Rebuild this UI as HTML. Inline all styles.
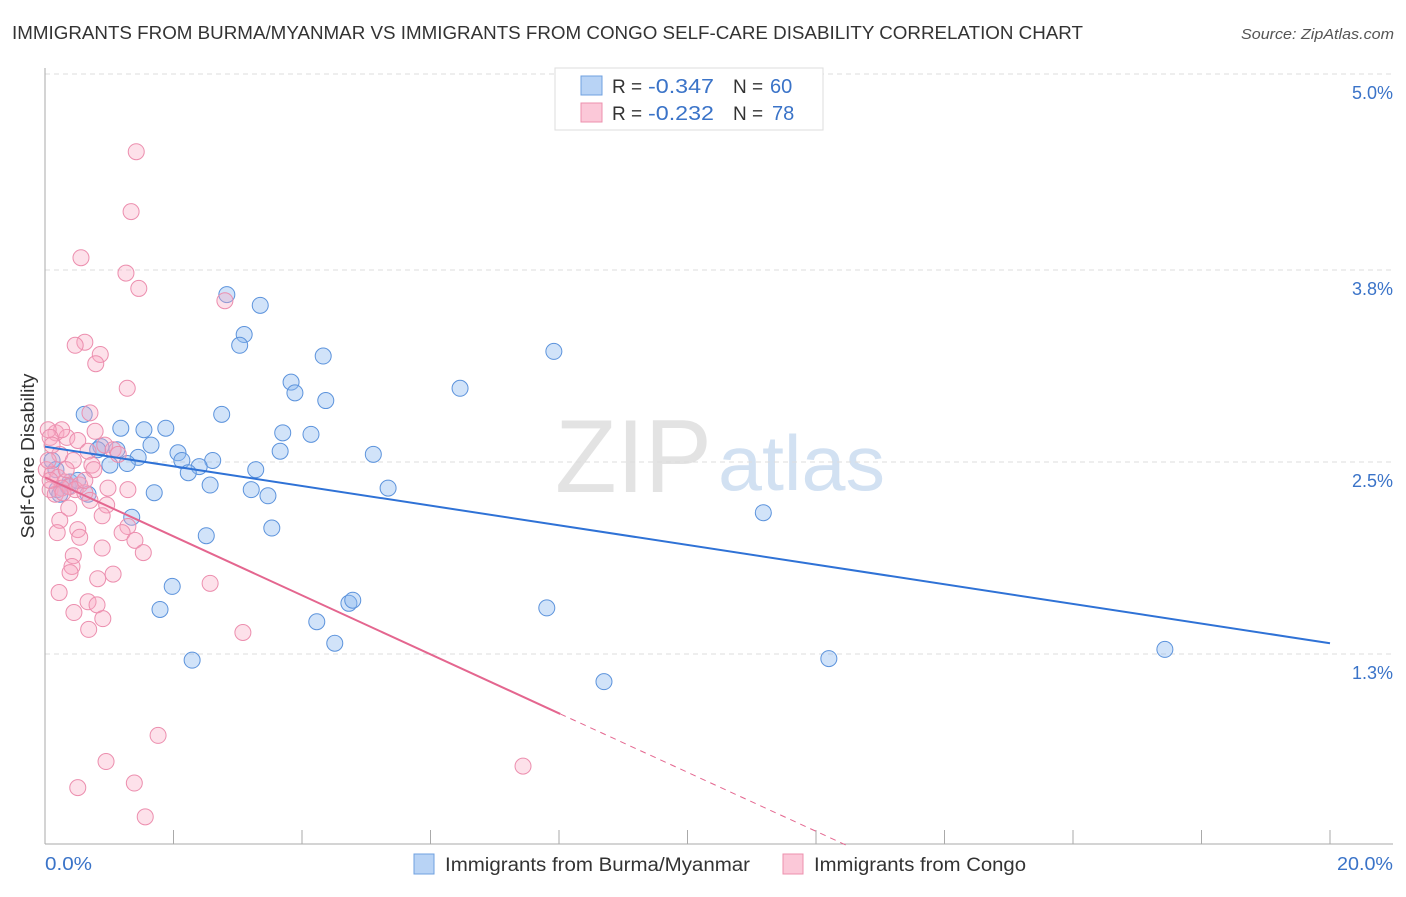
<!DOCTYPE html>
<html><head><meta charset="utf-8"><style>
body{margin:0;background:#fff;font-family:"Liberation Sans",sans-serif}
svg text{font-family:"Liberation Sans",sans-serif}
</style></head><body>
<svg id="chart" width="1406" height="892" xmlns="http://www.w3.org/2000/svg">
<text x="12" y="39" font-size="18" fill="#333" textLength="1071" lengthAdjust="spacingAndGlyphs">IMMIGRANTS FROM BURMA/MYANMAR VS IMMIGRANTS FROM CONGO SELF-CARE DISABILITY CORRELATION CHART</text>
<text x="1241" y="39" font-size="15" fill="#555" font-style="italic" textLength="153" lengthAdjust="spacingAndGlyphs">Source: ZipAtlas.com</text>
<text x="555" y="492" font-size="104" fill="#ddd" font-family="Liberation Serif" opacity="0.8" textLength="157" lengthAdjust="spacingAndGlyphs">ZIP</text>
<text x="718" y="490" font-size="78" fill="#c8daf0" opacity="0.8" textLength="167" lengthAdjust="spacingAndGlyphs">atlas</text>
<g id="grid"></g><g id="axes"></g><g id="pts"></g><g id="trend"></g>
<text transform="translate(34,456) rotate(-90)" font-size="18" fill="#333" text-anchor="middle" textLength="165" lengthAdjust="spacingAndGlyphs">Self-Care Disability</text>
<g>
<rect x="555" y="68" width="268" height="62" fill="#fff" stroke="#ddd"/>
<rect x="581" y="76" width="21" height="19" fill="#b8d3f5" stroke="#6fa0e0"/>
<rect x="581" y="103" width="21" height="19" fill="#fbc8d8" stroke="#ec90ae"/>
<text x="612" y="93" font-size="19" fill="#333">R =</text>
<text x="648" y="93" font-size="20" fill="#3a73c8" textLength="66" lengthAdjust="spacingAndGlyphs">-0.347</text>
<text x="733" y="93" font-size="19" fill="#333">N =</text>
<text x="770" y="93" font-size="20" fill="#3a73c8">60</text>
<text x="612" y="120" font-size="19" fill="#333">R =</text>
<text x="648" y="120" font-size="20" fill="#3a73c8" textLength="66" lengthAdjust="spacingAndGlyphs">-0.232</text>
<text x="733" y="120" font-size="19" fill="#333">N =</text>
<text x="772" y="120" font-size="20" fill="#3a73c8">78</text>
</g>
<g>
<rect x="414" y="854" width="20" height="20" fill="#b8d3f5" stroke="#6fa0e0"/>
<text x="445" y="871" font-size="19" fill="#333" textLength="305" lengthAdjust="spacingAndGlyphs">Immigrants from Burma/Myanmar</text>
<rect x="783" y="854" width="20" height="20" fill="#fbc8d8" stroke="#ec90ae"/>
<text x="814" y="871" font-size="19" fill="#333" textLength="212" lengthAdjust="spacingAndGlyphs">Immigrants from Congo</text>
</g>
</svg>
<script>
const yTicks=[1.25,2.5,3.75,5.0];
const yTickLabels=["1.3%","2.5%","3.8%","5.0%"];
const xTickLabels=["0.0%","20.0%"];
const burmaX=[2.83,3.35,3.10,3.03,4.33,7.92,3.83,3.89,6.46,4.37,2.75,0.61,1.18,1.54,1.88,3.70,4.14,1.65,0.87,1.12,2.07,1.45,2.13,2.61,1.01,1.28,2.40,3.28,2.23,5.11,3.66,0.19,0.36,0.67,0.23,1.70,2.57,3.21,3.47,5.34,1.35,3.53,2.51,11.18,1.98,1.79,4.73,4.79,4.23,4.51,7.81,2.29,8.70,12.20,17.43,0.11,0.39,0.17,0.51,0.82];
const burmaY=[3.59,3.52,3.33,3.26,3.19,3.22,3.02,2.95,2.98,2.90,2.81,2.81,2.72,2.71,2.72,2.69,2.68,2.61,2.60,2.58,2.56,2.53,2.51,2.51,2.48,2.49,2.47,2.45,2.43,2.55,2.57,2.32,2.34,2.29,2.29,2.30,2.35,2.32,2.28,2.33,2.14,2.07,2.02,2.17,1.69,1.54,1.58,1.60,1.46,1.32,1.55,1.21,1.07,1.22,1.28,2.51,2.37,2.45,2.38,2.58];
const congoX=[1.42,1.34,0.56,1.26,1.46,2.80,0.62,0.47,0.86,0.79,1.28,0.70,0.17,0.34,0.51,0.78,0.26,0.05,0.08,0.93,1.06,0.67,0.23,0.44,0.73,0.02,0.11,0.20,0.31,0.39,0.54,0.08,0.26,0.47,0.62,0.98,1.29,0.76,0.62,0.16,0.96,0.37,0.89,0.23,1.29,0.51,1.20,0.19,1.40,0.54,1.53,0.89,0.44,0.42,0.39,1.06,0.82,2.57,0.22,0.67,0.81,0.45,0.90,0.68,3.08,1.76,0.95,1.39,0.51,1.56,7.44,0.08,0.33,0.70,0.05,0.28,1.14,0.11];
const congoY=[4.52,4.13,3.83,3.73,3.63,3.55,3.28,3.26,3.20,3.14,2.98,2.82,2.69,2.66,2.64,2.70,2.71,2.71,2.66,2.61,2.58,2.57,2.55,2.51,2.48,2.45,2.42,2.40,2.37,2.34,2.35,2.32,2.33,2.32,2.30,2.33,2.32,2.45,2.38,2.29,2.22,2.20,2.15,2.12,2.08,2.06,2.04,2.04,1.99,2.01,1.91,1.94,1.89,1.82,1.78,1.77,1.74,1.71,1.65,1.59,1.57,1.52,1.48,1.41,1.39,0.72,0.55,0.41,0.38,0.19,0.52,2.38,2.45,2.25,2.51,2.30,2.55,2.61];
const burmaTrend=[2.60,1.32];
const congoTrend=[2.40,0.86];
const congoSolidEnd=8.02;
const NS="http://www.w3.org/2000/svg";
const sx=v=>45+v*64.25, sy=v=>846-v*153.6;
function mk(tag,attrs,parent){const e=document.createElementNS(NS,tag);for(const k in attrs)e.setAttribute(k,attrs[k]);parent.appendChild(e);return e;}
const grid=document.getElementById('grid'),axes=document.getElementById('axes'),pts=document.getElementById('pts'),trend=document.getElementById('trend');
yTicks.forEach((t,i)=>{
 const gy=sy(t)-(i==3?4:0);
 const l=mk('line',{x1:45,x2:1393,y1:gy,y2:gy,stroke:'#ddd','stroke-dasharray':'5,4'},grid);
 
 
 const tx=mk('text',{x:1393,y:gy+25,'font-size':18,fill:'#3a73c8','text-anchor':'end'},grid);
 tx.textContent=yTickLabels[i];
 
 
});
const ya=mk('line',{x1:45,x2:45,y1:68,y2:844,stroke:'#aaa'},axes);


const xa=mk('line',{x1:45,x2:1393,y1:844,y2:844,stroke:'#aaa'},axes);


for(let v=0;v<=20;v+=2){
 const t=mk('line',{x1:sx(v),x2:sx(v),y1:830,y2:844,stroke:'#aaa'},axes);
 
 
}
[[0,"start",45,47],[20,"end",1393,56]].forEach((d,i)=>{
 const tx=mk('text',{x:d[2],y:870,'font-size':18,fill:'#3a73c8','text-anchor':d[1],textLength:d[3],lengthAdjust:'spacingAndGlyphs'},axes);
 tx.textContent=xTickLabels[i];
 
 
});
burmaX.forEach((x,i)=>{
 const c=mk('circle',{cx:sx(x),cy:sy(burmaY[i]),r:8,fill:'rgba(140,185,240,0.4)',stroke:'#5c93dc','stroke-width':1},pts);
 
 
});
congoX.forEach((x,i)=>{
 const c=mk('circle',{cx:sx(x),cy:sy(congoY[i]),r:8,fill:'rgba(248,170,195,0.35)',stroke:'#ec8eae','stroke-width':1},pts);
 
 
});
const bl=mk('line',{x1:sx(0),y1:sy(burmaTrend[0]),x2:sx(20),y2:sy(burmaTrend[1]),stroke:'#2f72d6','stroke-width':2},trend);


const slope=(congoTrend[1]-congoTrend[0])/congoSolidEnd;
const cl=mk('line',{x1:sx(0),y1:sy(congoTrend[0]),x2:sx(congoSolidEnd),y2:sy(congoTrend[1]),stroke:'#e4668f','stroke-width':2},trend);


const xEnd=-congoTrend[0]/slope;
const cd=mk('line',{x1:sx(congoSolidEnd),y1:sy(congoTrend[1]),x2:sx(xEnd),y2:sy(0),stroke:'#e4668f','stroke-width':1,'stroke-dasharray':'6,5'},trend);


</script>
</body></html>
